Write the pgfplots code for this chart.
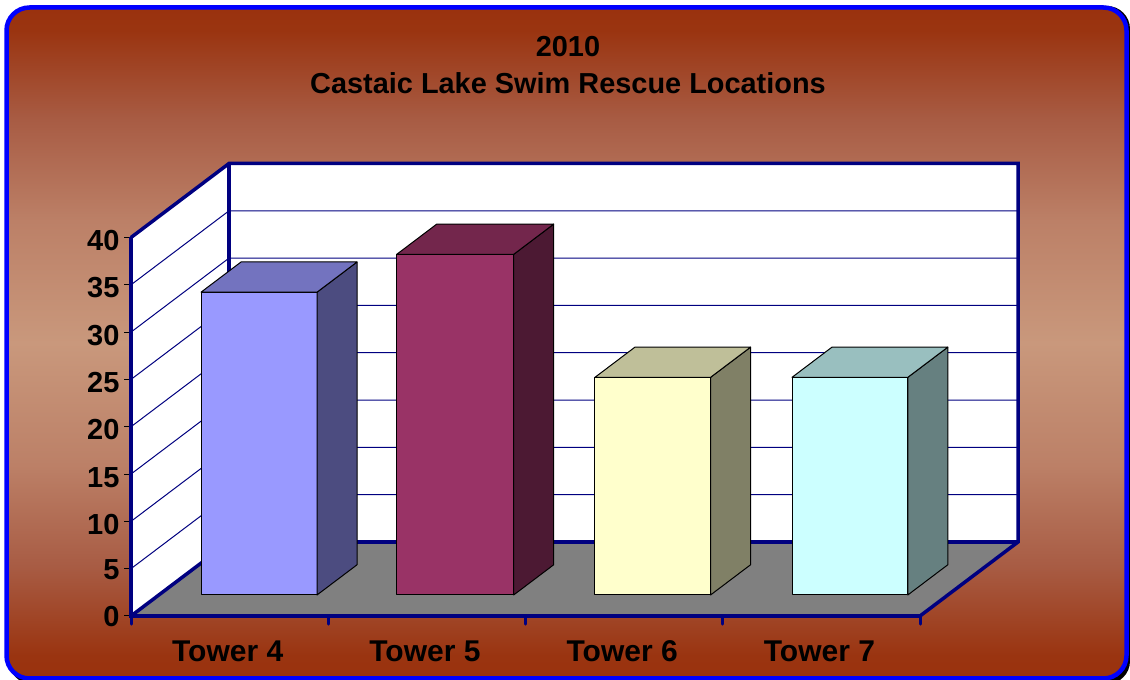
\documentclass[border=0pt]{standalone}
\usepackage{fontspec}
\setmainfont{Liberation Sans}
\usepackage{pgfplots}
\pgfplotsset{compat=1.18}
\definecolor{navyw}{RGB}{0,0,128}
\definecolor{barA}{RGB}{153,153,255}
\definecolor{barB}{RGB}{153,51,102}
\definecolor{barC}{RGB}{255,255,204}
\definecolor{barD}{RGB}{204,255,255}
\definecolor{floorg}{RGB}{128,128,128}
\pgfdeclareverticalshading{panelbg}{100bp}{%
  rgb(0bp)=(0.604,0.196,0.055);
  rgb(25bp)=(0.604,0.196,0.055);
  rgb(26.7bp)=(0.604,0.204,0.063);
  rgb(33.4bp)=(0.659,0.361,0.267);
  rgb(40.9bp)=(0.737,0.502,0.404);
  rgb(50bp)=(0.788,0.596,0.486);
  rgb(59.1bp)=(0.737,0.502,0.404);
  rgb(66.6bp)=(0.659,0.361,0.267);
  rgb(73.3bp)=(0.604,0.204,0.063);
  rgb(75bp)=(0.604,0.196,0.055);
  rgb(100bp)=(0.604,0.196,0.055)}
% one oblique box: left, right, value, colour
\newcommand{\obar}[4]{%
  \addplot3[draw=black,line width=1pt,line join=round,fill=#4] coordinates {(#1,0.284,0) (#2,0.284,0) (#2,0.284,#3) (#1,0.284,#3)} -- cycle;
  \addplot3[draw=black,line width=1pt,line join=round,fill=#4!50!black] coordinates {(#2,0.284,0) (#2,0.692,0) (#2,0.692,#3) (#2,0.284,#3)} -- cycle;
  \addplot3[draw=black,line width=1pt,line join=round,fill=#4!75!black] coordinates {(#1,0.284,#3) (#2,0.284,#3) (#2,0.692,#3) (#1,0.692,#3)} -- cycle;
}
\newcommand{\gline}[1]{%
  \addplot3[navyw,line width=1pt] coordinates {(0,0,#1) (0,1,#1) (4,1,#1)};
}
\newcommand{\ztk}[1]{\addplot3[black,line width=1pt] coordinates {(-0.035,0,#1) (0,0,#1)};}
\newcommand{\xtk}[1]{\addplot3[navyw,line width=3pt,line cap=round] coordinates {(#1,0,0) (#1,0,-0.85)};}
\begin{document}
\begin{tikzpicture}[x=1pt,y=1pt]
\path[use as bounding box] (0,0) rectangle (1130,680);
\fill[black,rounded corners=23pt] (9,-4) rectangle (1130,674);
\shade[shading=panelbg,draw=blue,line width=4.5pt,rounded corners=23pt]
  (6.5,1.5) rectangle (1126.5,672.5);
\node[font=\fontsize{28.9}{37.5}\selectfont\bfseries,align=center,text=black,anchor=center] at (568,614.7)
  {2010\\Castaic Lake Swim Rescue Locations};
\begin{axis}[
  at={(131pt,64pt)},anchor=origin,
  x={(197.25pt,0pt)},y={(98pt,74pt)},z={(0pt,9.4625pt)},
  xmin=0,xmax=4,ymin=0,ymax=1,zmin=0,zmax=40,
  clip=false,
  axis lines=none,
  /pgf/number format/assume math mode=true,
  ]
  % walls and floor
  \addplot3[fill=white,draw=none] coordinates {(0,0,0) (0,1,0) (0,1,40) (0,0,40)} -- cycle;
  \addplot3[fill=white,draw=none] coordinates {(0,1,0) (4,1,0) (4,1,40) (0,1,40)} -- cycle;
  \addplot3[fill=floorg,draw=none] coordinates {(0,0,0) (4,0,0) (4,1,0) (0,1,0)} -- cycle;
  % grid
  \gline{5}\gline{10}\gline{15}\gline{20}\gline{25}\gline{30}\gline{35}
  % ticks
  \ztk{0}\ztk{5}\ztk{10}\ztk{15}\ztk{20}\ztk{25}\ztk{30}\ztk{35}\ztk{40}
  \xtk{0}\xtk{1}\xtk{2}\xtk{3}\xtk{4}
  % frame
  \addplot3[navyw,line width=3.5pt,line join=miter] coordinates {(0,0,40) (0,1,40) (4,1,40) (4,1,0) (4,0,0)};
  \addplot3[navyw,line width=3.5pt] coordinates {(0,1,40) (0,1,0) (4,1,0)};
  \addplot3[navyw,line width=3.5pt] coordinates {(0,0,40) (0,0,0) (4,0,0)};
  \addplot3[navyw,line width=3.5pt] coordinates {(0,0,0) (0,1,0)};
  % bars
  \obar{0.214}{0.802}{32}{barA}
  \obar{1.206}{1.799}{36}{barB}
  \obar{2.211}{2.797}{23}{barC}
  \obar{3.210}{3.797}{23}{barD}
\end{axis}
\begin{axis}[
  at={(131pt,64pt)},anchor=origin,
  x={(197.25pt,0pt)},y={(98pt,74pt)},z={(0pt,9.4625pt)},
  xmin=0,xmax=4,ymin=0,ymax=1,zmin=0,zmax=40,
  axis lines=left,
  axis line style={draw=none},
  ytick=\empty,
  ztick={0,5,...,40},
  xtick=\empty,
  extra x ticks={0.5,1.5,2.5,3.5},
  extra x tick labels={Tower 4,Tower 5,Tower 6,Tower 7},
  extra x tick style={tick style={draw=none},tick label style={font=\fontsize{30}{30}\selectfont\bfseries,text height=21pt,text depth=0pt,xshift=5pt,yshift=-21pt}},
  tick align=outside,
  major tick length=0pt,
  z tick label style={font=\fontsize{29}{29}\selectfont\bfseries,text height=20pt,text depth=0pt,xshift=-8pt,yshift=3.5pt},
  ztick style={draw=none},
  /pgf/number format/assume math mode=true,
  ]
\end{axis}
\end{tikzpicture}
\end{document}
